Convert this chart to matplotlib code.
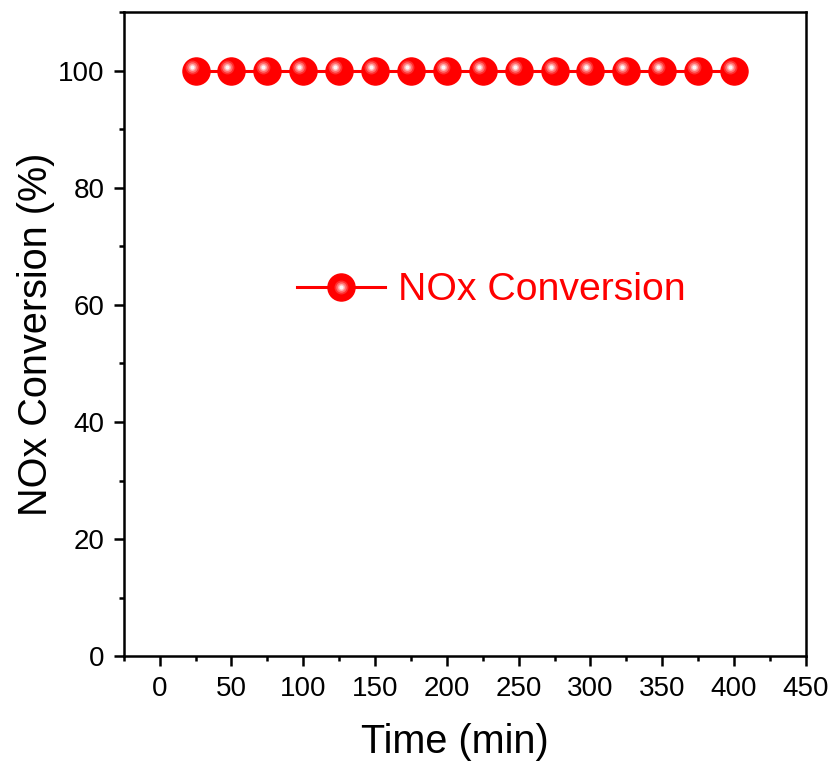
import numpy as np
import matplotlib
matplotlib.use("Agg")
from matplotlib import pyplot as plt
from matplotlib import transforms
from matplotlib.legend_handler import HandlerTuple
from matplotlib.ticker import MultipleLocator

plt.rcParams['font.family'] = ['Liberation Sans', 'DejaVu Sans']

time_min = [25, 50, 75, 100, 125, 150, 175, 200, 225, 250, 275, 300, 325, 350, 375, 400]
nox_conv = [100, 100, 100, 100, 100, 100, 100, 100, 100, 100, 100, 100, 100, 100, 100, 100]

fig = plt.figure(figsize=(8.36, 7.63), dpi=100)
ax = fig.add_axes([0.148, 0.140, 0.816, 0.844])

red = '#ff0000'
l1, = ax.plot(time_min, nox_conv, '-o', color=red, lw=2.2, ms=19.5,
              mec=red, mfc=red, label='NOx Conversion', zorder=3)

# fake sphere shading: small lighter dots shifted up-left
shift = transforms.offset_copy(ax.transData, fig=fig, x=-4, y=4, units='dots')
hl = []
for ms, c in [(10, '#ff3030'), (7.5, '#ff7070'), (5, '#ffb0b0'), (3, '#fff4f4')]:
    h, = ax.plot(time_min, nox_conv, 'o', ms=ms, mfc=c, mec='none',
                 transform=shift, zorder=4)
    hl.append(h)

ax.set_xlim(-25, 450)
ax.set_ylim(0, 110)
ax.xaxis.set_major_locator(MultipleLocator(50))
ax.xaxis.set_minor_locator(MultipleLocator(25))
ax.yaxis.set_major_locator(MultipleLocator(20))
ax.yaxis.set_minor_locator(MultipleLocator(10))
ax.set_xticks(np.arange(0, 451, 50))

for s in ax.spines.values():
    s.set_linewidth(1.8)
ax.tick_params(which='major', direction='out', length=7, width=1.8,
               labelsize=20, pad=7)
ax.tick_params(which='minor', direction='out', length=3.6, width=1.8)
ax.tick_params(top=False, right=False, which='both')

ax.set_xlabel('Time (min)', fontsize=28.5)
ax.set_ylabel('NOx Conversion (%)', fontsize=28.5, labelpad=2)
ax.xaxis.set_label_coords(0.485, -0.103)

leg = ax.legend(handles=[tuple([l1] + hl)], labels=['NOx Conversion'],
                handler_map={tuple: HandlerTuple(ndivide=1)},
                loc='center left', bbox_to_anchor=(0.254, 0.568),
                frameon=False, fontsize=28.3, handlelength=2.24,
                handletextpad=0.33, borderpad=0, borderaxespad=0)
for t in leg.get_texts():
    t.set_color(red)

fig.savefig('out.png', dpi=100)
